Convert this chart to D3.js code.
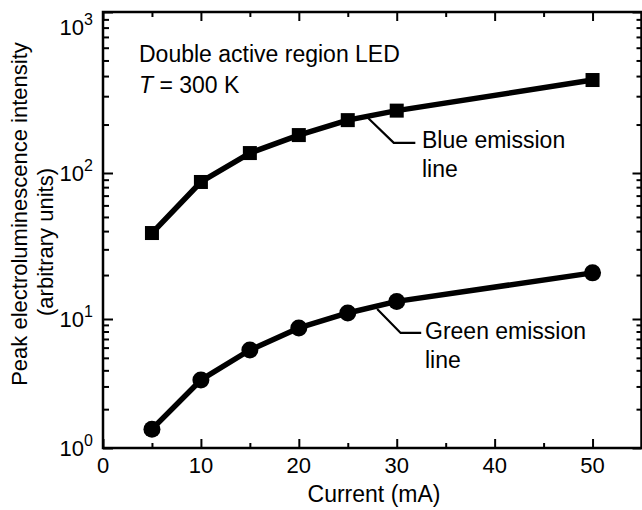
<!DOCTYPE html>
<html>
<head>
<meta charset="utf-8">
<script src="https://cdn.jsdelivr.net/npm/d3@7"></script>
<style>
  body { margin: 0; background: #fff; }
  text { font-family: "Liberation Sans", Arial, Helvetica, sans-serif; fill: #000; }
</style>
</head>
<body>
<div id="chart"></div>
<script>
// data
var currents = [5, 10, 15, 20, 25, 30, 50];
var blueIntensity = [38.8, 86.8, 133, 172, 213, 244, 378];
var greenIntensity = [1.40, 3.37, 5.75, 8.52, 11.0, 13.2, 20.7];
var xTicks = [0, 10, 20, 30, 40, 50];
var xMinorTicks = [5, 15, 25, 35, 45, 55];
var yDecades = [1, 10, 100, 1000];
var yExponents = ["0", "1", "2", "3"];

// leader lines of the two labels, in data units [mA, intensity]
var blueLeader = [[27.1, 219], [29.7, 154], [31.9, 154]];
var greenLeader = [[28.0, 11.7], [30.4, 7.8], [32.5, 7.8]];

var W = 642, H = 510;
var plotL = 103, plotR = 641.5, plotT = 12, plotB = 448;

var svg = d3.select("#chart")
  .append("svg")
  .attr("width", W)
  .attr("height", H)
  .style("background", "#fff");

var x = d3.scaleLinear()
  .domain([0, 55])
  .range([plotL, plotR]);

// the scan is a little stretched from decade to decade, so map each decade
var y = d3.scaleLog()
  .domain(yDecades)
  .range([plotB, 319, 173, plotT]);

var yMinor = [];
for (var d = 0; d < 3; d++) {
  for (var m = 2; m <= 9; m++) yMinor.push(m * yDecades[d]);
}

// ticks, all pointing inward
function ticks(axis, pos, size) {
  var g = svg.append("g")
    .attr("transform", pos)
    .call(axis.tickSize(-size).tickFormat(""));
  g.select(".domain").remove();
  g.selectAll(".tick line").attr("stroke", "#000").attr("stroke-width", 2);
  return g;
}
ticks(d3.axisBottom(x).tickValues(xTicks), "translate(0," + plotB + ")", 9);
ticks(d3.axisBottom(x).tickValues(xMinorTicks), "translate(0," + plotB + ")", 5);
ticks(d3.axisTop(x).tickValues(xTicks), "translate(0," + plotT + ")", 9);
ticks(d3.axisTop(x).tickValues(xMinorTicks), "translate(0," + plotT + ")", 5);
ticks(d3.axisLeft(y).tickValues(yDecades), "translate(" + plotL + ",0)", 10);
ticks(d3.axisLeft(y).tickValues(yMinor), "translate(" + plotL + ",0)", 6);
ticks(d3.axisRight(y).tickValues(yDecades), "translate(" + plotR + ",0)", 9);
ticks(d3.axisRight(y).tickValues(yMinor), "translate(" + plotR + ",0)", 5);

// frame
svg.append("rect")
  .attr("x", plotL)
  .attr("y", plotT)
  .attr("width", plotR - plotL)
  .attr("height", plotB - plotT)
  .attr("fill", "none")
  .attr("stroke", "#000")
  .attr("stroke-width", 2.5);

// x tick labels
svg.selectAll(".xlab")
  .data(xTicks)
  .enter()
  .append("text")
  .attr("x", function (d) { return x(d); })
  .attr("y", plotB + 25)
  .attr("text-anchor", "middle")
  .attr("font-size", 22)
  .text(function (d) { return d; });

// y tick labels as powers of ten
var ylab = svg.selectAll(".ylab")
  .data(yDecades)
  .enter()
  .append("text")
  .attr("x", plotL - 10)
  .attr("y", function (d) { return Math.max(y(d) + 8, 35); })
  .attr("text-anchor", "end")
  .attr("font-size", 22)
  .text("10");
ylab.append("tspan")
  .attr("dy", -10)
  .attr("font-size", 16)
  .text(function (d, i) { return yExponents[i]; });

// axis titles
svg.append("text")
  .attr("x", 374)
  .attr("y", 502)
  .attr("text-anchor", "middle")
  .attr("font-size", 23)
  .text("Current (mA)");

svg.append("text")
  .attr("transform", "translate(27,214) rotate(-90)")
  .attr("text-anchor", "middle")
  .attr("font-size", 22)
  .text("Peak electroluminescence intensity");
svg.append("text")
  .attr("transform", "translate(53,242) rotate(-90)")
  .attr("text-anchor", "middle")
  .attr("font-size", 22)
  .text("(arbitrary units)");

// series
var line = d3.line()
  .x(function (d) { return x(d[0]); })
  .y(function (d) { return y(d[1]); });

var blue = d3.zip(currents, blueIntensity);
var green = d3.zip(currents, greenIntensity);

[blue, green].forEach(function (s) {
  svg.append("path")
    .datum(s)
    .attr("d", line)
    .attr("fill", "none")
    .attr("stroke", "#000")
    .attr("stroke-width", 5.5)
    .attr("stroke-linejoin", "round");
});

svg.selectAll(".sq")
  .data(blue)
  .enter()
  .append("rect")
  .attr("x", function (d) { return x(d[0]) - 7; })
  .attr("y", function (d) { return y(d[1]) - 7; })
  .attr("width", 14)
  .attr("height", 14)
  .attr("fill", "#000");

svg.selectAll(".dot")
  .data(green)
  .enter()
  .append("circle")
  .attr("cx", function (d) { return x(d[0]); })
  .attr("cy", function (d) { return y(d[1]); })
  .attr("r", 8.5)
  .attr("fill", "#000");

// labels with leader lines
[blueLeader, greenLeader].forEach(function (s) {
  svg.append("path")
    .datum(s)
    .attr("d", line)
    .attr("fill", "none")
    .attr("stroke", "#000")
    .attr("stroke-width", 2.2);
});

svg.append("text").attr("x", 422).attr("y", 148).attr("font-size", 23).text("Blue emission");
svg.append("text").attr("x", 422).attr("y", 177).attr("font-size", 23).text("line");
svg.append("text").attr("x", 425).attr("y", 339).attr("font-size", 23).text("Green emission");
svg.append("text").attr("x", 425).attr("y", 368).attr("font-size", 23).text("line");

svg.append("text").attr("x", 139).attr("y", 62).attr("font-size", 23).text("Double active region LED");
var t = svg.append("text").attr("x", 139).attr("y", 93).attr("font-size", 23);
t.append("tspan").attr("font-style", "italic").text("T");
t.append("tspan").text(" = 300 K");
</script>
</body>
</html>
